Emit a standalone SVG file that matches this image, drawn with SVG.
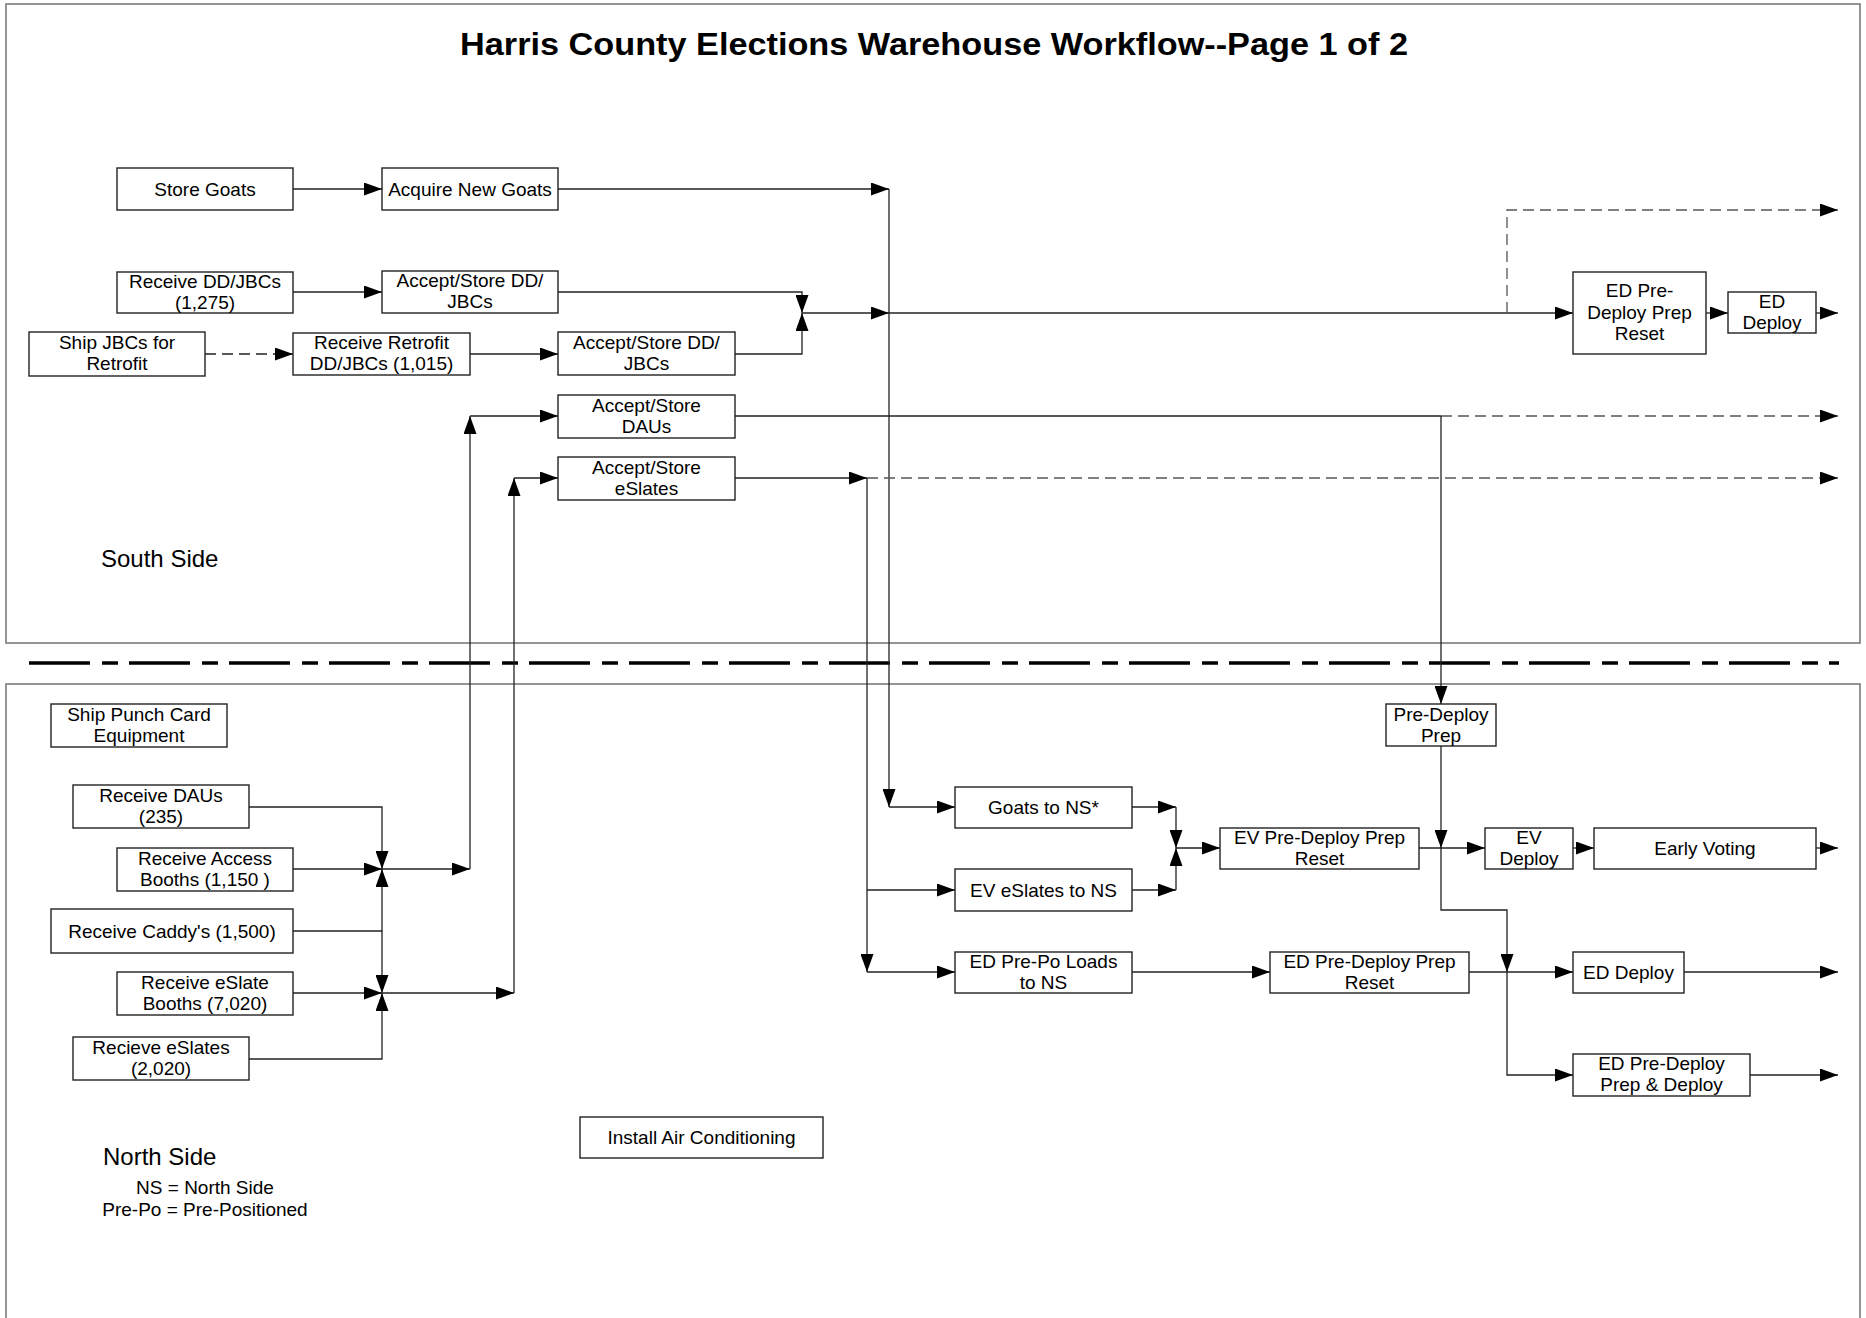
<svg xmlns="http://www.w3.org/2000/svg" width="1866" height="1318" viewBox="0 0 1866 1318">
<style>
.bg{fill:#fff}
.area{fill:none;stroke:#7a7a7a;stroke-width:1.6}
.sep{fill:none;stroke:#000;stroke-width:3.5;stroke-dasharray:61 12 16 11}
.box{fill:#fff;stroke:#222;stroke-width:1.4}
.t{font-family:"Liberation Sans",Arial,sans-serif;font-size:19px;fill:#000;text-anchor:middle}
.title{font-family:"Liberation Sans",Arial,sans-serif;font-size:31px;font-weight:bold;fill:#000;text-anchor:middle}
.lab{font-family:"Liberation Sans",Arial,sans-serif;font-size:24px;fill:#000}
.leg{font-family:"Liberation Sans",Arial,sans-serif;font-size:19px;fill:#000;text-anchor:middle}
.c{fill:none;stroke:#222;stroke-width:1.3}
.ca{fill:none;stroke:#222;stroke-width:1.3;marker-end:url(#ah)}
.cd{fill:none;stroke:#222;stroke-width:1.3;stroke-dasharray:11 6;marker-end:url(#ah)}
.cg{fill:none;stroke:#555;stroke-width:1.3;stroke-dasharray:11 6;marker-end:url(#ah)}
</style>
<defs>
<marker id="ah" markerUnits="userSpaceOnUse" markerWidth="18" markerHeight="13" refX="18" refY="6.5" orient="auto">
<path d="M0,0 L18,6.5 L0,13 z" fill="#000"/>
</marker>
</defs>
<rect class="bg" x="0" y="0" width="1866" height="1318"/>
<rect class="area" x="6" y="4" width="1854" height="639"/>
<rect class="area" x="6" y="684" width="1854" height="660"/>
<path class="sep" d="M29,663 H1839"/>
<text class="title" x="934" y="55" textLength="948" lengthAdjust="spacingAndGlyphs">Harris County Elections Warehouse Workflow--Page 1 of 2</text>
<text class="lab" x="101" y="567">South Side</text>
<text class="lab" x="103" y="1165">North Side</text>
<text class="leg" x="205" y="1194">NS = North Side</text>
<text class="leg" x="205" y="1216">Pre-Po = Pre-Positioned</text>

<g id="connectors">
<path class="ca" d="M293,189 H382"/>
<path class="ca" d="M558,189 H889"/>
<path class="ca" d="M889,189 V807"/>
<path class="ca" d="M889,807 H955"/>
<path class="ca" d="M293,292 H382"/>
<path class="ca" d="M558,292 H802 V313"/>
<path class="ca" d="M735,354 H802 V313"/>
<path class="ca" d="M802,313 H889"/>
<path class="ca" d="M889,313 H1573"/>
<path class="cd" d="M205,354 H293"/>
<path class="ca" d="M470,354 H558"/>
<path class="cg" d="M1507,313 V210 H1838"/>
<path class="ca" d="M1706,313 H1728"/>
<path class="ca" d="M1816,313 H1838"/>
<path class="c" d="M735,416 H1441"/>
<path class="cg" d="M1441,416 H1838"/>
<path class="ca" d="M1441,416 V704"/>
<path class="ca" d="M735,478 H867"/>
<path class="cg" d="M867,478 H1838"/>
<path class="ca" d="M867,478 V972"/>
<path class="ca" d="M867,972 H955"/>
<path class="ca" d="M867,890 H955"/>
<path class="ca" d="M249,807 H382 V869"/>
<path class="ca" d="M293,869 H382"/>
<path class="ca" d="M293,931 H382 V869"/>
<path class="ca" d="M382,931 V993"/>
<path class="ca" d="M293,993 H382"/>
<path class="ca" d="M249,1059 H382 V993"/>
<path class="ca" d="M382,869 H470"/>
<path class="ca" d="M470,869 V416"/>
<path class="ca" d="M470,416 H558"/>
<path class="ca" d="M382,993 H514"/>
<path class="ca" d="M514,993 V478"/>
<path class="ca" d="M514,478 H558"/>
<path class="ca" d="M1132,807 H1176"/>
<path class="ca" d="M1176,807 V848"/>
<path class="ca" d="M1132,890 H1176"/>
<path class="ca" d="M1176,890 V848"/>
<path class="ca" d="M1176,848 H1220"/>
<path class="ca" d="M1419,848 H1485"/>
<path class="ca" d="M1441,746 V848"/>
<path class="ca" d="M1441,848 V910 H1507 V972"/>
<path class="ca" d="M1507,972 V1075 H1573"/>
<path class="ca" d="M1573,848 H1594"/>
<path class="ca" d="M1816,848 H1838"/>
<path class="ca" d="M1132,972 H1270"/>
<path class="ca" d="M1469,972 H1573"/>
<path class="ca" d="M1684,972 H1838"/>
<path class="ca" d="M1750,1075 H1838"/>
</g>

<g id="store-goats"><rect class="box" x="117" y="168" width="176" height="42"/><text class="t" x="205" y="195.5">Store Goats</text></g>
<g id="acquire-new-goats"><rect class="box" x="382" y="168" width="176" height="42"/><text class="t" x="470" y="195.5">Acquire New Goats</text></g>
<g id="receive-ddjbcs"><rect class="box" x="117" y="272" width="176" height="41"/><text class="t" x="205" y="287.5">Receive DD/JBCs</text><text class="t" x="205" y="308.5">(1,275)</text></g>
<g id="accept-store-dd-1"><rect class="box" x="382" y="271" width="176" height="42"/><text class="t" x="470" y="287">Accept/Store DD/</text><text class="t" x="470" y="308">JBCs</text></g>
<g id="ship-jbcs"><rect class="box" x="29" y="332" width="176" height="44"/><text class="t" x="117" y="349">Ship JBCs for</text><text class="t" x="117" y="370">Retrofit</text></g>
<g id="receive-retrofit"><rect class="box" x="293" y="333" width="177" height="42"/><text class="t" x="381.5" y="349">Receive Retrofit</text><text class="t" x="381.5" y="370">DD/JBCs (1,015)</text></g>
<g id="accept-store-dd-2"><rect class="box" x="558" y="332" width="177" height="43"/><text class="t" x="646.5" y="348.5">Accept/Store DD/</text><text class="t" x="646.5" y="369.5">JBCs</text></g>
<g id="accept-store-daus"><rect class="box" x="558" y="395" width="177" height="43"/><text class="t" x="646.5" y="411.5">Accept/Store</text><text class="t" x="646.5" y="432.5">DAUs</text></g>
<g id="accept-store-eslates"><rect class="box" x="558" y="457" width="177" height="43"/><text class="t" x="646.5" y="473.5">Accept/Store</text><text class="t" x="646.5" y="494.5">eSlates</text></g>
<g id="ed-predeploy-south"><rect class="box" x="1573" y="272" width="133" height="82"/><text class="t" x="1639.5" y="297">ED Pre-</text><text class="t" x="1639.5" y="318.5">Deploy Prep</text><text class="t" x="1639.5" y="340">Reset</text></g>
<g id="ed-deploy-south"><rect class="box" x="1728" y="292" width="88" height="41"/><text class="t" x="1772" y="307.5">ED</text><text class="t" x="1772" y="328.5">Deploy</text></g>
<g id="pre-deploy-prep"><rect class="box" x="1386" y="704" width="110" height="42"/><text class="t" x="1441" y="721">Pre-Deploy</text><text class="t" x="1441" y="742">Prep</text></g>
<g id="ship-punch-card"><rect class="box" x="51" y="704" width="176" height="43"/><text class="t" x="139" y="720.5">Ship Punch Card</text><text class="t" x="139" y="741.5">Equipment</text></g>
<g id="receive-daus"><rect class="box" x="73" y="785" width="176" height="43"/><text class="t" x="161" y="801.5">Receive DAUs</text><text class="t" x="161" y="822.5">(235)</text></g>
<g id="receive-access-booths"><rect class="box" x="117" y="848" width="176" height="43"/><text class="t" x="205" y="864.5">Receive Access</text><text class="t" x="205" y="885.5">Booths (1,150 )</text></g>
<g id="receive-caddys"><rect class="box" x="51" y="909" width="242" height="44"/><text class="t" x="172" y="937.5">Receive Caddy's (1,500)</text></g>
<g id="receive-eslate-booths"><rect class="box" x="117" y="972" width="176" height="43"/><text class="t" x="205" y="988.5">Receive eSlate</text><text class="t" x="205" y="1009.5">Booths (7,020)</text></g>
<g id="recieve-eslates"><rect class="box" x="73" y="1037" width="176" height="43"/><text class="t" x="161" y="1053.5">Recieve eSlates</text><text class="t" x="161" y="1074.5">(2,020)</text></g>
<g id="install-ac"><rect class="box" x="580" y="1117" width="243" height="41"/><text class="t" x="701.5" y="1144">Install Air Conditioning</text></g>
<g id="goats-to-ns"><rect class="box" x="955" y="787" width="177" height="41"/><text class="t" x="1043.5" y="814">Goats to NS*</text></g>
<g id="ev-eslates-to-ns"><rect class="box" x="955" y="869" width="177" height="42"/><text class="t" x="1043.5" y="896.5">EV eSlates to NS</text></g>
<g id="ev-predeploy"><rect class="box" x="1220" y="828" width="199" height="41"/><text class="t" x="1319.5" y="843.5">EV Pre-Deploy Prep</text><text class="t" x="1319.5" y="864.5">Reset</text></g>
<g id="ev-deploy"><rect class="box" x="1485" y="828" width="88" height="41"/><text class="t" x="1529" y="843.5">EV</text><text class="t" x="1529" y="864.5">Deploy</text></g>
<g id="early-voting"><rect class="box" x="1594" y="828" width="222" height="41"/><text class="t" x="1705" y="855">Early Voting</text></g>
<g id="ed-prepo-loads"><rect class="box" x="955" y="952" width="177" height="41"/><text class="t" x="1043.5" y="967.5">ED Pre-Po Loads</text><text class="t" x="1043.5" y="988.5">to NS</text></g>
<g id="ed-predeploy-ns"><rect class="box" x="1270" y="952" width="199" height="41"/><text class="t" x="1369.5" y="967.5">ED Pre-Deploy Prep</text><text class="t" x="1369.5" y="988.5">Reset</text></g>
<g id="ed-deploy-ns"><rect class="box" x="1573" y="952" width="111" height="41"/><text class="t" x="1628.5" y="979">ED Deploy</text></g>
<g id="ed-predeploy-deploy"><rect class="box" x="1573" y="1054" width="177" height="42"/><text class="t" x="1661.5" y="1070">ED Pre-Deploy</text><text class="t" x="1661.5" y="1091">Prep &amp; Deploy</text></g>
</svg>
